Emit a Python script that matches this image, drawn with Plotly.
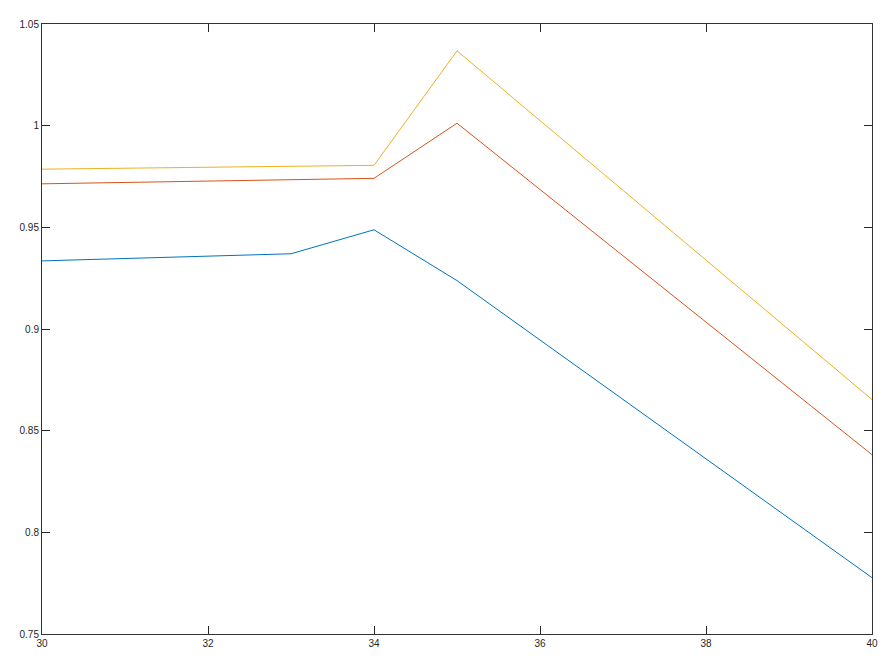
import plotly.graph_objects as go

x_vals = [30, 33, 34, 35, 40]
series1 = [0.9335, 0.9370, 0.9488, 0.9238, 0.7777]
series2 = [0.9714, 0.9734, 0.9741, 1.0012, 0.8382]
series3 = [0.9786, 0.9799, 0.9805, 1.0368, 0.8653]
colors = ["#0072BD", "#D95319", "#EDB120"]

x_ticks = [30, 32, 34, 36, 38, 40]
y_ticks = [0.75, 0.8, 0.85, 0.9, 0.95, 1.0, 1.05]
y_tick_text = ["0.75", "0.8", "0.85", "0.9", "0.95", "1", "1.05"]

fig = go.Figure()
for ys, c in zip([series1, series2, series3], colors):
    fig.add_trace(go.Scatter(x=x_vals, y=ys, mode="lines",
                             line=dict(color=c, width=1), showlegend=False))

axis_common = dict(showgrid=False, zeroline=False, showline=True, linecolor="#333333",
                   linewidth=1, mirror="ticks", ticks="inside", ticklen=8,
                   tickcolor="#262626", tickwidth=1,
                   tickfont=dict(family="Liberation Sans, Arial, sans-serif", size=10, color="#262626"))

fig.update_layout(
    width=888, height=658,
    margin=dict(l=34, r=24, t=10, b=32),
    paper_bgcolor="white", plot_bgcolor="white",
    xaxis=dict(range=[30, 40], tickvals=x_ticks, ticktext=[str(t) for t in x_ticks], **axis_common),
    yaxis=dict(range=[0.75, 1.05], tickvals=y_ticks, ticktext=y_tick_text, **axis_common),
)
fig.write_html("out.html")
